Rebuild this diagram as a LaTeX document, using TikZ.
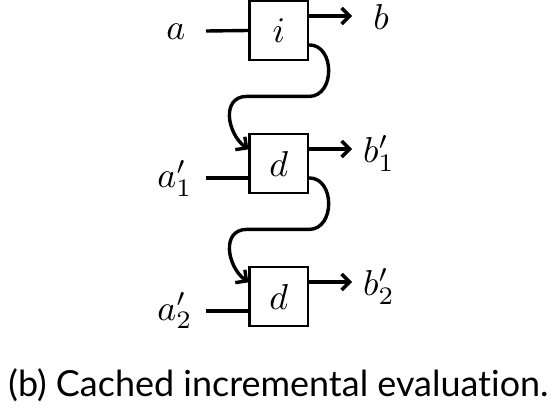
\documentclass[tikz,border=0pt]{standalone}
\usepackage{fontspec}
\setsansfont{Lato}[Ligatures=NoCommon]
\usepackage{graphicx}
\usetikzlibrary{arrows.meta,calc}
\newcommand{\lblmath}[1]{\scalebox{3.6}{$#1$}}
\begin{document}
\begin{tikzpicture}[x=1pt,y=-1pt,
  opbox/.style={draw,line width=2.2pt,minimum width=58.5pt,minimum height=59pt,inner sep=0pt},
  lbl/.style={inner sep=0pt,anchor=base},
  wire/.style={line width=3.4pt},
  arr/.style={wire,-{Straight Barb[length=8pt,width=16pt]}}]
\useasboundingbox (0,0) rectangle (556,412);
% boxes
\node[opbox] (i)  at (278.75,30.5)  {\lblmath{i}};
\node[opbox] (d1) at (278.75,163.5) {\lblmath{d}};
\node[opbox] (d2) at (278.75,296.5) {\lblmath{d}};
% labels
\node[lbl] (la)  at (176,40)  {\lblmath{a}};
\node[lbl] (lb)  at (381,29.5)  {\lblmath{b}};
\node[lbl] (la1) at (175,187.5) {\lblmath{a'_1}};
\node[lbl] (lb1) at (379,162.5) {\lblmath{b'_1}};
\node[lbl] (la2) at (175,320) {\lblmath{a'_2}};
\node[lbl] (lb2) at (379,295.5) {\lblmath{b'_2}};
% wire end points
\coordinate (ia)  at (206,31);
\coordinate (ob)  at (352,16);
\coordinate (ia1) at (206,178);
\coordinate (ob1) at (352,149);
\coordinate (ia2) at (206,311);
\coordinate (ob2) at (352,282);
% inputs
\draw[wire] (ia) -- (i.west);
\draw[wire] (ia1) -- (ia1 -| d1.west);
\draw[wire] (ia2) -- (ia2 -| d2.west);
% outputs
\draw[arr] (ob -| i.east) -- (ob);
\draw[arr] (ob1 -| d1.east) -- (ob1);
\draw[arr] (ob2 -| d2.east) -- (ob2);
% cache connectors
\draw[arr] ($(i.north east)+(0,45)$) to[out=0,in=0,looseness=1.3] ($(i.north east)+(0,96.5)$)
  -- ($(i.north west)+(-1.5,96.5)$)
  .. controls ($(i.north west)+(-27.5,96.5)$) and ($(i.north west)+(-21.5,133.5)$) .. ($(d1.north west)+(0,16.5)$);
\draw[arr] ($(d1.north east)+(0,45)$) to[out=0,in=0,looseness=1.3] ($(d1.north east)+(0,96.5)$)
  -- ($(d1.north west)+(-1.5,96.5)$)
  .. controls ($(d1.north west)+(-27.5,96.5)$) and ($(d1.north west)+(-21.5,133.5)$) .. ($(d2.north west)+(0,16.5)$);
% caption
\node[inner sep=0pt,anchor=base west] (cap) at (8.3,396.7)
  {\resizebox{540pt}{!}{\fontsize{30}{36}\selectfont\sffamily (b) Cached incremental evaluation.}};
\end{tikzpicture}
\end{document}
